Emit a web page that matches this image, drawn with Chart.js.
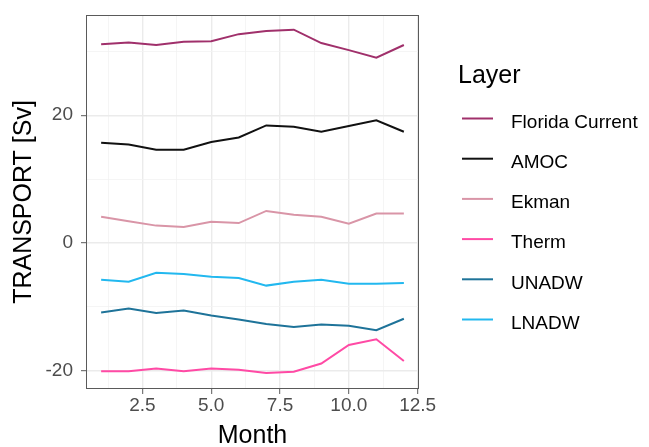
<!DOCTYPE html>
<html>
<head>
<meta charset="utf-8">
<script src="https://cdn.jsdelivr.net/npm/chart.js@4"></script>
<style>
  html, body { margin: 0; padding: 0; background: #fff; }
  canvas { display: block; }
</style>
</head>
<body>
<canvas id="transportChart" width="649" height="447"></canvas>
<script>
const months = [1, 2, 3, 4, 5, 6, 7, 8, 9, 10, 11, 12];
const layers = ["Florida Current", "AMOC", "Ekman", "Therm", "UNADW", "LNADW"];
const colors = ["#a0306b", "#111111", "#d995a7", "#ff4aa5", "#1e7399", "#22b8ef"];

const florida = [31.1, 31.4, 31.0, 31.5, 31.6, 32.7, 33.2, 33.4, 31.3, 30.2, 29.0, 31.0];
const amoc    = [15.7, 15.4, 14.6, 14.6, 15.8, 16.5, 18.4, 18.2, 17.4, 18.3, 19.2, 17.4];
const ekman   = [4.1, 3.4, 2.7, 2.5, 3.3, 3.1, 5.0, 4.4, 4.1, 3.0, 4.6, 4.6];
const therm   = [-20.1, -20.1, -19.7, -20.1, -19.7, -19.9, -20.4, -20.2, -18.9, -16.0, -15.1, -18.5];
const unadw   = [-10.9, -10.3, -11.0, -10.6, -11.4, -12.0, -12.7, -13.2, -12.8, -13.0, -13.7, -11.9];
const lnadw   = [-5.8, -6.1, -4.7, -4.9, -5.3, -5.5, -6.7, -6.1, -5.8, -6.4, -6.4, -6.3];

const xTicks = [1.25, 2.5, 3.75, 5, 6.25, 7.5, 8.75, 10, 11.25, 12.5];
const yTicks = [-20, -10, 0, 10, 20, 30];

const series = [florida, amoc, ekman, therm, unadw, lnadw];

const isMajorX = v => Math.abs(v / 2.5 - Math.round(v / 2.5)) < 1e-6;
const isMajorY = v => v % 20 === 0;

// ggplot-ish panel border + legend on the right
const panelAndLegend = {
    id: "panelAndLegend",
    afterDraw(chart) {
        const { ctx, chartArea: a } = chart;
        ctx.save();
        ctx.strokeStyle = "#5a5a5a";
        ctx.lineWidth = 1;
        ctx.strokeRect(a.left + 0.5, a.top + 0.5, a.right - a.left - 1, a.bottom - a.top - 1);

        ctx.fillStyle = "#000";
        ctx.font = "25px 'Liberation Sans', Arial, sans-serif";
        ctx.textBaseline = "alphabetic";
        ctx.fillText("Layer", 458, 83);

        ctx.font = "19px 'Liberation Sans', Arial, sans-serif";
        chart.data.datasets.forEach((ds, i) => {
            const y = 118.5 + i * 40.2;
            ctx.strokeStyle = ds.borderColor;
            ctx.lineWidth = 2;
            ctx.beginPath();
            ctx.moveTo(462, y);
            ctx.lineTo(493, y);
            ctx.stroke();
            ctx.fillStyle = "#000";
            ctx.fillText(ds.label, 511, y + 9.3);
        });
        ctx.restore();
    }
};

new Chart(document.getElementById("transportChart"), {
    type: "line",
    data: {
        datasets: layers.map((name, i) => ({
            label: name,
            data: months.map((m, j) => ({ x: m, y: series[i][j] })),
            borderColor: colors[i],
            borderWidth: 2,
            pointRadius: 0,
            tension: 0,
            fill: false
        }))
    },
    options: {
        responsive: false,
        animation: false,
        layout: { padding: { top: 15, right: 230, left: 0, bottom: 0 } },
        plugins: {
            legend: { display: false },
            tooltip: { enabled: false }
        },
        scales: {
            x: {
                type: "linear",
                min: 0.45,
                max: 12.55,
                afterBuildTicks: s => { s.ticks = xTicks.map(v => ({ value: v })); },
                afterFit: s => { s.height = 58; s.paddingLeft = 0; s.paddingRight = 0; },
                border: { display: false },
                grid: {
                    color: c => isMajorX(c.tick.value) ? "#ebebeb" : "#f3f3f3",
                    lineWidth: c => isMajorX(c.tick.value) ? 1.4 : 0.8,
                    tickColor: c => isMajorX(c.tick.value) ? "#5a5a5a" : "rgba(0,0,0,0)",
                    tickLength: 5,
                    tickWidth: 1
                },
                ticks: {
                    autoSkip: false,
                    maxRotation: 0,
                    padding: 0,
                    color: "#4d4d4d",
                    font: { family: "'Liberation Sans', Arial, sans-serif", size: 19 },
                    callback: v => isMajorX(v) ? v.toFixed(1) : ""
                },
                title: {
                    display: true,
                    text: "Month",
                    color: "#000",
                    padding: { top: 0, bottom: 0 },
                    font: { family: "'Liberation Sans', Arial, sans-serif", size: 25, lineHeight: 0.9 }
                }
            },
            y: {
                min: -22.9,
                max: 35.7,
                afterBuildTicks: s => { s.ticks = yTicks.map(v => ({ value: v })); },
                afterFit: s => { s.width = 86; s.paddingTop = 0; s.paddingBottom = 0; },
                border: { display: false },
                grid: {
                    color: c => isMajorY(c.tick.value) ? "#ebebeb" : "#f3f3f3",
                    lineWidth: c => isMajorY(c.tick.value) ? 1.4 : 0.8,
                    tickColor: c => isMajorY(c.tick.value) ? "#5a5a5a" : "rgba(0,0,0,0)",
                    tickLength: 5,
                    tickWidth: 1
                },
                ticks: {
                    autoSkip: false,
                    padding: 8,
                    color: "#4d4d4d",
                    font: { family: "'Liberation Sans', Arial, sans-serif", size: 19 },
                    callback: v => isMajorY(v) ? String(v) : ""
                },
                title: {
                    display: true,
                    text: "TRANSPORT [Sv]",
                    color: "#000",
                    padding: { top: 12, bottom: 0 },
                    font: { family: "'Liberation Sans', Arial, sans-serif", size: 25, lineHeight: 1.0 }
                }
            }
        }
    },
    plugins: [panelAndLegend]
});
</script>
</body>
</html>
